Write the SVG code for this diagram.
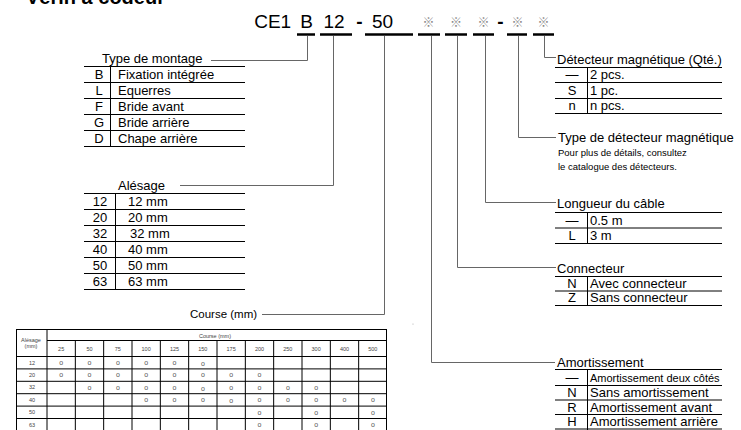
<svg xmlns="http://www.w3.org/2000/svg" width="741" height="430" viewBox="0 0 741 430">
<style>
text{font-family:"Liberation Sans",Arial,sans-serif;fill:#000}
.t{font-size:13px}
.c{text-anchor:middle}
.code{font-size:19px;text-anchor:middle}
.star{font-family:"Noto Sans CJK JP","DejaVu Sans",sans-serif;font-size:12px;fill:#888;text-anchor:middle}
.ul{stroke:#000;stroke-width:2.5}
.ld{fill:none;stroke:#666;stroke-width:1}
.tl{stroke:#000;stroke-width:1;fill:none}
.sm{font-size:9.5px}
.tb{font-size:5.5px;fill:#444;text-anchor:middle}
.o{font-size:7px;fill:#555;text-anchor:middle}
</style>
<rect width="741" height="430" fill="#fff"/>
<text x="26" y="4" font-weight="bold" font-size="20">Vérin à codeur</text>

<g id="code">
<text class="code" x="272.7" y="28">CE1</text>
<text class="code" x="306.5" y="28">B</text>
<text class="code" x="334" y="28">12</text>
<text class="code" x="359.5" y="28" font-weight="bold">-</text>
<text class="code" x="382.5" y="28">50</text>
<text class="star" x="428.5" y="27">※</text>
<text class="star" x="456" y="27">※</text>
<text class="star" x="483.5" y="27">※</text>
<text class="code" x="500.5" y="28" font-weight="bold">-</text>
<text class="star" x="517.5" y="27">※</text>
<text class="star" x="543.5" y="27">※</text>
<line class="ul" x1="297" y1="34.5" x2="315" y2="34.5"/>
<line class="ul" x1="320" y1="34.5" x2="352" y2="34.5" stroke="#999"/>
<line class="ul" x1="365" y1="34.5" x2="413" y2="34.5"/>
<line class="ul" x1="418" y1="34.5" x2="440" y2="34.5"/>
<line class="ul" x1="445" y1="34.5" x2="467" y2="34.5"/>
<line class="ul" x1="473" y1="34.5" x2="494" y2="34.5"/>
<line class="ul" x1="507" y1="34.5" x2="527" y2="34.5"/>
<line class="ul" x1="533" y1="34.5" x2="554" y2="34.5"/>
</g>

<g id="connectors" class="ld">
<path d="M307.5,36 V60.5 H211"/>
<path d="M333.5,36 V185.5 H180"/>
<path d="M384.5,36 V314.5 H262"/>
<path d="M431.5,36 V362.5 H555"/>
<path d="M457.5,36 V267.5 H556"/>
<path d="M485.5,36 V202.5 H556"/>
<path d="M518.5,36 V137.5 H556"/>
<path d="M544.5,36 V57.5 H556"/>
</g>

<g id="montage">
<text class="t" x="102" y="63">Type de montage</text>
<path class="tl" d="M84,66.5 H245 M84,82.5 H245 M84,98.5 H245 M84,114.5 H245 M84,130.5 H245 M84,146.5 H245 M110.5,66.5 V146.5"/>
<text class="t c" x="99" y="78.5">B</text><text class="t" x="118" y="78.5">Fixation intégrée</text>
<text class="t c" x="99" y="94.5">L</text><text class="t" x="118" y="94.5">Equerres</text>
<text class="t c" x="99" y="110.5">F</text><text class="t" x="118" y="110.5">Bride avant</text>
<text class="t c" x="99" y="126.5">G</text><text class="t" x="118" y="126.5">Bride arrière</text>
<text class="t c" x="99" y="142.5">D</text><text class="t" x="118" y="142.5">Chape arrière</text>
</g>

<g id="alesage">
<text class="t" x="118" y="190">Alésage</text>
<path class="tl" d="M84,193.5 H245 M84,209.5 H245 M84,225.5 H245 M84,241.5 H245 M84,257.5 H245 M84,273.5 H245 M84,289.5 H245 M115.5,193.5 V289.5"/>
<text class="t c" x="100" y="206">12</text><text class="t" x="128" y="206">12 mm</text>
<text class="t c" x="100" y="222">20</text><text class="t" x="128" y="222">20 mm</text>
<text class="t c" x="100" y="238">32</text><text class="t" x="130" y="238">32 mm</text>
<text class="t c" x="100" y="254">40</text><text class="t" x="128" y="254">40 mm</text>
<text class="t c" x="100" y="270">50</text><text class="t" x="128" y="270">50 mm</text>
<text class="t c" x="100" y="286">63</text><text class="t" x="128" y="286">63 mm</text>
</g>

<g id="course">
<text x="190" y="318" font-size="11.5">Course (mm)</text>
</g>

<g id="detecteur-qte">
<text class="t" x="557" y="64">Détecteur magnétique (Qté.)</text>
<path class="tl" d="M555,67.5 H722 M555,82.5 H722 M555,98.5 H722 M555,113.5 H722 M587.5,67.5 V113.5"/>
<text class="t c" x="572" y="79">—</text><text class="t" x="590" y="79">2 pcs.</text>
<text class="t c" x="572" y="95">S</text><text class="t" x="590" y="95">1 pc.</text>
<text class="t c" x="572" y="110">n</text><text class="t" x="590" y="110">n pcs.</text>
</g>

<g id="detecteur-type">
<text class="t" x="558" y="142">Type de détecteur magnétique</text>
<text class="sm" x="558" y="156">Pour plus de détails, consultez</text>
<text class="sm" x="558" y="170">le catalogue des détecteurs.</text>
</g>

<g id="cable">
<text class="t" x="557" y="208">Longueur du câble</text>
<path class="tl" d="M555,212.5 H722 M555,228 H722 M555,243.5 H722 M587.5,212.5 V243.5"/>
<text class="t c" x="572" y="224.5">—</text><text class="t" x="590" y="224.5">0.5 m</text>
<text class="t c" x="572" y="240">L</text><text class="t" x="590" y="240">3 m</text>
</g>

<g id="connecteur">
<text class="t" x="557" y="273">Connecteur</text>
<path class="tl" d="M555,276.5 H722 M555,291 H722 M555,305.5 H722 M587.5,276.5 V305.5"/>
<text class="t c" x="572" y="287.5">N</text><text class="t" x="590" y="287.5">Avec connecteur</text>
<text class="t c" x="572" y="302">Z</text><text class="t" x="590" y="302">Sans connecteur</text>
</g>

<g id="amortissement">
<text class="t" x="557" y="367">Amortissement</text>
<path class="tl" d="M555,369.5 H722 M555,385.5 H722 M555,400 H722 M555,414.5 H722 M555,429 H722 M587.5,369.5 V430"/>
<text class="t c" x="572" y="382">—</text><text x="590" y="382" font-size="11">Amortissement deux côtés</text>
<text class="t c" x="572" y="397">N</text><text class="t" x="590" y="397">Sans amortissement</text>
<text class="t c" x="572" y="411.5">R</text><text class="t" x="590" y="411.5">Amortissement avant</text>
<text class="t c" x="572" y="426">H</text><text class="t" x="590" y="426">Amortissement arrière</text>
</g>

<circle cx="413" cy="324" r="0.6" fill="#aaa"/>

<g id="course-table">
<path class="tl" d="M16,329.5 H387 M47,340.5 H387 M16,356.5 H387 M16,368.9 H387 M16,381.3 H387 M16,393.7 H387 M16,406.1 H387 M16,418.5 H387 M16.5,329.5 V431 M47,329.5 V431 M386.5,329.5 V431 M75.33,340.5 V431 M103.67,340.5 V431 M132,340.5 V431 M160.33,340.5 V431 M188.67,340.5 V431 M217,340.5 V431 M245.33,340.5 V431 M273.67,340.5 V431 M302,340.5 V431 M330.33,340.5 V431 M358.67,340.5 V431"/>
<text class="tb" x="31" y="341.5">Alésage</text>
<text class="tb" x="31" y="348">(mm)</text>
<text class="tb" x="215" y="338">Course (mm)</text>
<text class="tb" x="61.17" y="350.5">25</text>
<text class="tb" x="89.5" y="350.5">50</text>
<text class="tb" x="117.83" y="350.5">75</text>
<text class="tb" x="146.17" y="350.5">100</text>
<text class="tb" x="174.5" y="350.5">125</text>
<text class="tb" x="202.83" y="350.5">150</text>
<text class="tb" x="231.17" y="350.5">175</text>
<text class="tb" x="259.5" y="350.5">200</text>
<text class="tb" x="287.83" y="350.5">250</text>
<text class="tb" x="316.17" y="350.5">300</text>
<text class="tb" x="344.5" y="350.5">400</text>
<text class="tb" x="372.83" y="350.5">500</text>
<text class="tb" x="32" y="364.5">12</text>
<text class="tb" x="32" y="376.9">20</text>
<text class="tb" x="32" y="389.3">32</text>
<text class="tb" x="32" y="401.7">40</text>
<text class="tb" x="32" y="414.1">50</text>
<text class="tb" x="32" y="426.5">63</text>
<text class="o" x="61.17" y="365">o</text><text class="o" x="89.5" y="365">o</text><text class="o" x="117.83" y="365">o</text><text class="o" x="146.17" y="365">o</text><text class="o" x="174.5" y="365">o</text><text class="o" x="202.83" y="366">o</text>
<text class="o" x="61.17" y="377.4">o</text><text class="o" x="89.5" y="377.4">o</text><text class="o" x="117.83" y="377.4">o</text><text class="o" x="146.17" y="377.4">o</text><text class="o" x="174.5" y="377.4">o</text><text class="o" x="202.83" y="377.4">o</text><text class="o" x="231.17" y="377.4">o</text><text class="o" x="259.5" y="377.4">o</text>
<text class="o" x="89.5" y="389.8">o</text><text class="o" x="117.83" y="389.8">o</text><text class="o" x="146.17" y="389.8">o</text><text class="o" x="174.5" y="389.8">o</text><text class="o" x="202.83" y="390.5">o</text><text class="o" x="231.17" y="389.8">o</text><text class="o" x="259.5" y="389.8">o</text><text class="o" x="287.83" y="389.8">o</text><text class="o" x="316.17" y="389.8">o</text>
<text class="o" x="146.17" y="402.2">o</text><text class="o" x="174.5" y="402.2">o</text><text class="o" x="202.83" y="402.2">o</text><text class="o" x="231.17" y="403">o</text><text class="o" x="259.5" y="402.2">o</text><text class="o" x="287.83" y="402.2">o</text><text class="o" x="316.17" y="402.2">o</text><text class="o" x="344.5" y="402.2">o</text><text class="o" x="372.83" y="402.2">o</text>
<text class="o" x="259.5" y="414.6">o</text><text class="o" x="316.17" y="414.6">o</text><text class="o" x="372.83" y="414.6">o</text>
<text class="o" x="259.5" y="427">o</text><text class="o" x="316.17" y="427">o</text><text class="o" x="372.83" y="427">o</text>
</g>
</svg>
